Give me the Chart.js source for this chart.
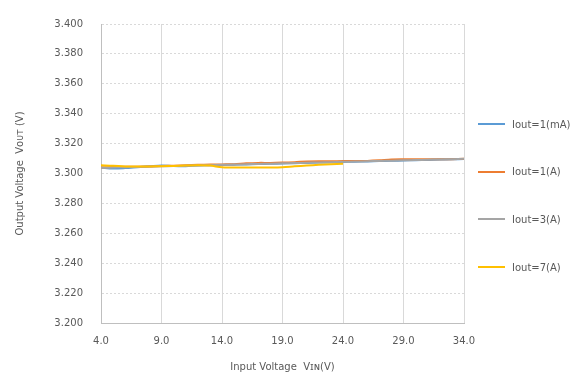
<!DOCTYPE html>
<html>
<head>
<meta charset="utf-8">
<script src="https://cdn.jsdelivr.net/npm/chart.js@4"></script>
<style>
  body { margin: 0; background: #fff; }
  #wrap { position: relative; width: 584px; height: 381px; }
  #legend { position: absolute; left: 478px; top: 118px; font: 10px "DejaVu Sans", sans-serif; color: #595959; }
  .item { display: flex; align-items: center; height: 12px; margin-bottom: 35.7px; white-space: nowrap; }
  .item span.line { display: inline-block; width: 27px; height: 2px; margin-right: 7px; }
</style>
</head>
<body>
<div id="wrap">
  <canvas id="chart" width="584" height="381"></canvas>
  <div id="legend"></div>
</div>
<script>
// input voltage (V)
const vin = [4, 5, 6, 7, 8, 9, 10, 11, 12, 13, 14, 15, 16, 17, 18, 19, 20, 21, 22, 23, 24,
  25, 26, 27, 28, 29, 30, 31, 32, 33, 34];
// 7A curve only measured up to 24V
const vin7A = [4, 5, 6, 7, 8, 9, 10, 11, 12, 13, 14, 15, 16, 17, 18, 19, 20, 21, 22, 23, 24];

// output voltage (V)
const iout1mA = [3.3040, 3.3033, 3.3036, 3.3042, 3.3048, 3.3054, 3.3050, 3.3049, 3.3053, 3.3055,
  3.3057, 3.3059, 3.3061, 3.3063, 3.3065, 3.3067, 3.3069, 3.3071, 3.3073, 3.3075, 3.3077,
  3.3079, 3.3081, 3.3083, 3.3085, 3.3087, 3.3089, 3.3091, 3.3093, 3.3095, 3.3097];
const iout1A = [3.3040, 3.3043, 3.3045, 3.3045, 3.3046, 3.3050, 3.3052, 3.3055, 3.3058, 3.3060,
  3.3061, 3.3062, 3.3068, 3.3071, 3.3071, 3.3073, 3.3076, 3.3080, 3.3082, 3.3082, 3.3083,
  3.3083, 3.3084, 3.3088, 3.3094, 3.3095, 3.3095, 3.3095, 3.3095, 3.3096, 3.3098];
const iout3A = [3.3038, 3.3040, 3.3042, 3.3044, 3.3046, 3.3048, 3.3050, 3.3052, 3.3054, 3.3056,
  3.3058, 3.3060, 3.3062, 3.3064, 3.3066, 3.3068, 3.3070, 3.3072, 3.3074, 3.3076, 3.3078,
  3.3080, 3.3082, 3.3084, 3.3086, 3.3088, 3.3090, 3.3092, 3.3094, 3.3096, 3.3098];
const iout7A = [3.3055, 3.3052, 3.3047, 3.3046, 3.3047, 3.3049, 3.3051, 3.3053, 3.3055, 3.3053,
  3.3041, 3.3040, 3.3040, 3.3040, 3.3040, 3.3042, 3.3048, 3.3053, 3.3058, 3.3062, 3.3066];

const seriesLabels = ['Iout=1(mA)', 'Iout=1(A)', 'Iout=3(A)', 'Iout=7(A)'];
const colors = ['#5b9bd5', '#ed7d31', '#a5a5a5', '#ffc000'];

function pts(xs, ys) {
  return ys.map((y, i) => ({ x: xs[i], y: y }));
}

const textColor = '#595959';
const font = { family: '"DejaVu Sans", sans-serif', size: 10 };

const datasets = [
  pts(vin, iout1mA), pts(vin, iout1A), pts(vin, iout3A), pts(vin7A, iout7A)
].map((data, i) => ({
  label: seriesLabels[i],
  data: data,
  borderColor: colors[i],
  backgroundColor: colors[i],
  borderWidth: 2,
  pointRadius: 0,
  tension: 0.3,
  order: 4 - i // later series on top, like the original
}));

const chart = new Chart(document.getElementById('chart'), {
  type: 'line',
  data: { datasets: datasets },
  options: {
    responsive: false,
    animation: false,
    layout: { padding: { top: 15, right: 120, bottom: 0, left: 0 } },
    plugins: { legend: { display: false }, tooltip: { enabled: false } },
    scales: {
      x: {
        type: 'linear',
        min: 4,
        max: 34,
        afterFit: (s) => { s.height = 58; },
        ticks: { stepSize: 5, color: textColor, font: font, padding: 12,
          callback: (v) => v.toFixed(1) },
        grid: { color: '#d9d9d9', drawTicks: false },
        border: { color: '#bfbfbf' },
        title: { display: true, text: 'Input Voltage  Vɪɴ(V)', color: textColor, font: font,
          padding: { top: 0, bottom: 8 } }
      },
      y: {
        min: 3.2,
        max: 3.4,
        afterFit: (s) => { s.width = 101; },
        ticks: { stepSize: 0.02, color: textColor, font: font, padding: 18,
          callback: (v) => v.toFixed(3) },
        grid: { color: '#d9d9d9', drawTicks: false },
        border: { color: '#bfbfbf', dash: [2, 2] },
        title: { display: true, text: 'Output Voltage  Vᴏᴜᴛ (V)', color: textColor, font: font,
          padding: { top: 14, bottom: 0 } }
      }
    }
  }
});

// html legend built from the datasets
const legend = document.getElementById('legend');
chart.data.datasets.forEach((ds) => {
  const item = document.createElement('div');
  item.className = 'item';
  const line = document.createElement('span');
  line.className = 'line';
  line.style.background = ds.borderColor;
  item.appendChild(line);
  item.appendChild(document.createTextNode(ds.label));
  legend.appendChild(item);
});
</script>
</body>
</html>
